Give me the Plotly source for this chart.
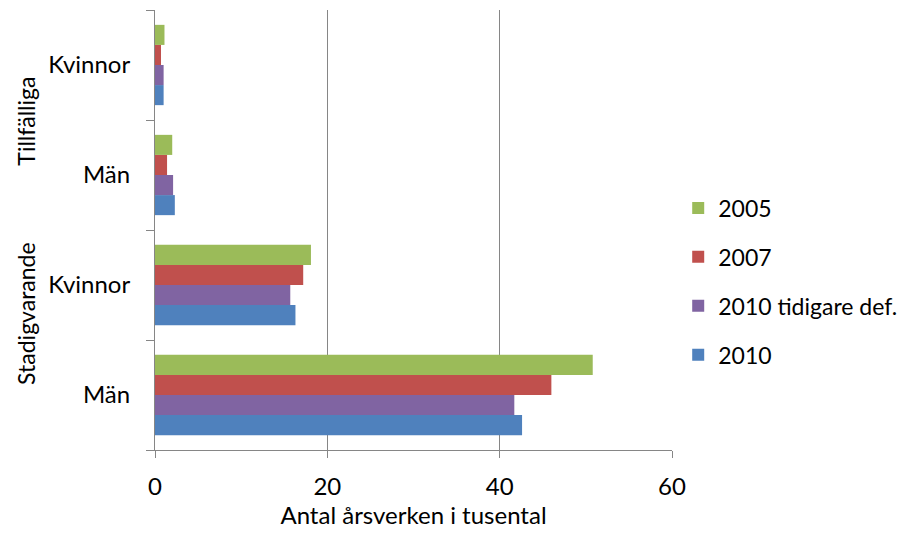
import plotly.graph_objects as go

categories = ["Stadigvarande|Män", "Stadigvarande|Kvinnor", "Tillfälliga|Män", "Tillfälliga|Kvinnor"]
tick_labels = ["Män", "Kvinnor", "Män", "Kvinnor"]
group_labels = ["Stadigvarande", "Tillfälliga"]

series_names = ["2010", "2010 tidigare def.", "2007", "2005"]
v2010 = [42.6, 16.3, 2.3, 1.0]
v2010_tid = [41.7, 15.7, 2.1, 1.0]
v2007 = [46.0, 17.2, 1.4, 0.7]
v2005 = [50.8, 18.1, 2.0, 1.1]
colors = ["#4F81BD", "#8064A2", "#C0504D", "#9BBB59"]
legend_ranks = [4, 3, 2, 1]

FONT = "Lato"
FS = 24
fig = go.Figure()
for name, vals, col, rk in zip(series_names, [v2010, v2010_tid, v2007, v2005], colors, legend_ranks):
    fig.add_trace(go.Bar(
        y=categories, x=vals, name=name, orientation="h",
        marker=dict(color=col, line=dict(width=0)),
        legendgroup=name, legendrank=rk,
    ))

fig.update_layout(
    width=899, height=521,
    barmode="group", bargap=0.27, bargroupgap=0,
    plot_bgcolor="white", paper_bgcolor="white",
    margin=dict(l=147, r=235, t=2, b=79, autoexpand=False),
    font=dict(family=FONT, size=FS, color="#000000"),
    legend=dict(
        x=1.012, xanchor="left", y=0.383, yanchor="middle",
        traceorder="grouped", tracegroupgap=16,
        font=dict(size=23), bgcolor="rgba(0,0,0,0)",
    ),
    showlegend=True,
)
fig.update_xaxes(
    range=[0, 60], dtick=20, showgrid=True, gridcolor="#868686", gridwidth=1,
    zeroline=False, showline=True, linecolor="#868686", linewidth=1,
    ticks="outside", ticklen=7, tickcolor="#868686", automargin=False,
    title=dict(text="Antal årsverken i tusental", font=dict(size=FS), standoff=23),
    tickfont=dict(size=FS), ticklabelstandoff=8,
)
fig.update_yaxes(
    type="category", categoryorder="array", categoryarray=categories,
    tickmode="array", tickvals=categories, ticktext=tick_labels,
    tickson="boundaries", ticks="outside", ticklen=8, tickcolor="#868686",
    showline=True, linecolor="#868686", linewidth=1, showgrid=False,
    tickfont=dict(size=FS), ticklabelstandoff=19, automargin=False,
)
fig.add_annotation(x=-0.25, y=0.311, xref="paper", yref="paper", text=group_labels[0],
                   textangle=-90, showarrow=False, font=dict(size=23),
                   xanchor="center", yanchor="middle")
fig.add_annotation(x=-0.25, y=0.748, xref="paper", yref="paper", text=group_labels[1],
                   textangle=-90, showarrow=False, font=dict(size=23),
                   xanchor="center", yanchor="middle")

fig.write_html("out.html")
